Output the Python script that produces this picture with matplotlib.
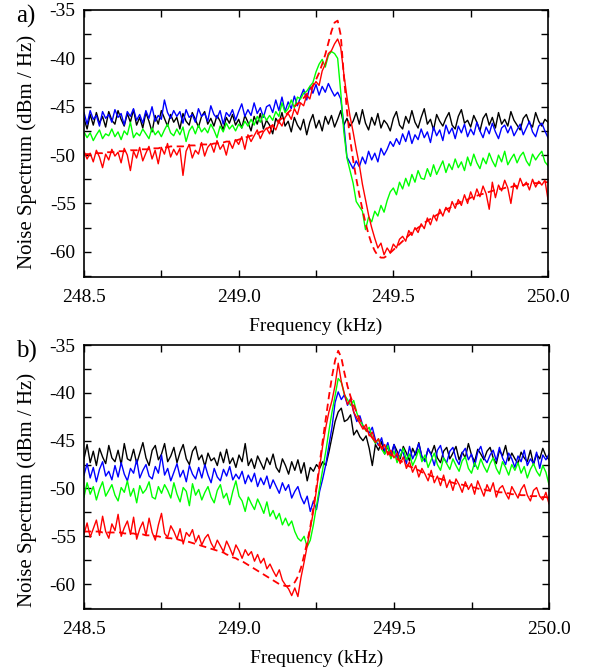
import numpy as np
import matplotlib
matplotlib.use("Agg")
import matplotlib.pyplot as plt
from matplotlib.ticker import MultipleLocator, FormatStrFormatter

# frequency axis, 10 Hz steps
freq = np.linspace(248.5, 250.0, 151)

# ---- panel a) ----
a_black = [
    -46.2, -47.3, -45.8, -46.9, -45.6, -46.7, -46.0, -47.1, -45.5, -46.4,
    -46.8, -45.4, -46.3, -47.0, -45.7, -46.6, -45.3, -46.9, -46.1, -47.2,
    -45.6, -46.5, -47.6, -45.9, -46.8, -45.4, -46.2, -47.0, -45.8, -46.6,
    -46.1, -47.3, -45.7, -46.5, -46.9, -45.6, -46.3, -47.1, -46.0, -45.5,
    -46.8, -46.2, -47.0, -45.9, -46.5, -47.4, -46.1, -46.7, -45.8, -46.9,
    -46.3, -47.2, -45.9, -46.6, -47.5, -46.0, -46.8, -45.7, -47.3, -46.4,
    -46.9, -47.8, -46.2, -46.7, -45.6, -47.0, -46.5, -47.6, -46.1, -46.9,
    -47.4, -46.3, -47.9, -46.6, -45.8, -47.2, -46.4, -47.5, -46.0, -46.8,
    -45.9, -47.1, -46.3, -45.4, -46.9, -46.2, -47.0, -46.5, -45.6, -46.8,
    -45.3, -46.7, -47.4, -46.1, -46.9, -45.7, -47.2, -46.4, -46.8, -47.5,
    -46.2, -45.5, -46.9, -47.3, -46.0, -46.7, -45.4, -46.6, -47.2, -46.1,
    -45.2, -46.8, -46.3, -47.4, -45.8, -46.5, -47.0, -46.2, -45.6, -46.9,
    -47.3, -46.0, -45.3, -46.7, -46.4, -47.1, -45.9, -46.6, -47.5, -46.2,
    -45.7, -46.9, -46.1, -47.2, -45.6, -46.8, -46.3, -47.0, -45.5, -46.4,
    -46.9, -47.4, -46.2, -45.8, -46.7, -47.1, -45.6, -46.5, -47.0, -46.3,
    -46.6]

a_blue = [
    -45.6, -46.8, -45.4, -46.3, -45.9, -47.0, -45.5, -46.2, -45.8, -46.6,
    -45.3, -46.1, -45.7, -46.9, -45.5, -46.0, -45.2, -46.4, -45.8, -46.7,
    -45.4, -46.2, -45.0, -46.5, -45.9, -46.3, -44.3, -45.6, -46.2, -45.4,
    -46.0, -45.5, -46.7, -45.3, -46.1, -45.8, -46.6, -45.2, -46.0, -45.7,
    -46.5, -44.9, -45.8, -46.2, -45.4, -46.8, -45.6, -46.0, -45.3, -46.4,
    -45.5, -44.7, -46.0, -45.3, -45.9, -44.6, -45.7, -45.1, -46.1, -45.0,
    -44.8, -45.6, -44.3, -45.4, -44.0, -45.5, -44.5, -45.2, -43.9, -44.9,
    -44.0, -43.2, -44.3, -42.9, -43.6, -42.7, -43.8, -42.9, -43.5, -42.6,
    -43.3, -43.9, -43.5, -44.2, -46.8, -50.2, -50.8, -51.4, -50.6, -51.2,
    -50.2, -50.9, -49.6, -50.5, -49.8, -50.7, -49.3, -50.0, -49.4, -48.6,
    -49.1, -48.3, -48.9, -47.8, -48.6, -47.5, -48.8, -47.9, -48.4, -47.3,
    -48.2, -47.6, -48.7, -47.1, -48.0, -47.4, -48.5, -46.9, -47.8, -47.2,
    -48.3, -47.0, -47.7, -46.8, -48.1, -47.3, -47.9, -46.6, -47.5, -48.2,
    -47.1, -47.8, -46.7, -47.6, -48.3, -47.2, -46.9, -47.7, -47.0, -48.0,
    -47.4, -46.8, -47.9, -47.2, -46.5, -47.6, -48.1, -47.0, -46.7, -47.5,
    -48.2]

a_green = [
    -47.6, -48.2, -47.7, -48.5, -47.9, -47.4, -48.3, -47.8, -48.0, -47.3,
    -48.1, -47.6, -48.4, -47.5, -47.9, -46.6, -48.2, -47.7, -48.0, -47.3,
    -47.8, -48.3, -47.2, -47.9, -47.5, -48.1, -47.4, -46.8, -47.7, -48.0,
    -47.3, -47.9, -47.1, -48.6, -47.5, -47.0, -47.8, -46.9, -47.6, -47.2,
    -47.7, -46.8, -47.4, -48.2, -47.0, -47.6, -46.7, -47.3, -46.9, -47.5,
    -46.8, -47.2, -46.5, -47.0, -46.3, -46.9, -46.0, -46.6, -45.8, -46.4,
    -45.9, -46.4, -45.5, -46.0, -44.6, -45.6, -45.2, -44.3, -45.1, -44.0,
    -44.2, -43.6, -43.4, -42.9, -42.5, -41.4, -40.6, -40.1, -40.9, -39.7,
    -39.3, -39.5, -40.0, -43.5, -47.6, -50.3, -51.6, -52.9, -54.8, -55.3,
    -55.8, -57.7, -56.4, -56.9, -55.8, -56.3, -55.2, -55.9, -54.7, -53.8,
    -53.4, -54.1, -52.8, -53.5, -52.4, -53.2, -52.0, -52.8, -51.6, -52.4,
    -52.5, -51.4, -52.2, -51.0, -52.0, -51.3, -50.6, -51.8, -50.9, -51.5,
    -50.4, -51.3, -50.7, -51.6, -50.2, -51.1, -49.9, -50.8, -51.4, -50.3,
    -50.9, -49.8, -50.6, -51.2, -50.0, -50.7, -49.6, -51.0, -50.4, -49.9,
    -50.8, -50.1, -49.7, -50.6, -51.1, -49.9, -50.5, -50.0, -49.6, -50.7,
    -51.1]

a_red = [
    -49.6, -50.4, -49.8, -50.7, -49.5, -50.2, -51.3, -49.9, -50.5, -49.4,
    -50.1, -49.7, -50.8, -49.3, -50.0, -51.6, -49.6, -50.3, -49.2, -50.6,
    -49.8, -49.1, -50.4, -49.5, -50.9, -49.2, -49.9, -48.8, -50.2, -49.4,
    -50.0, -49.3, -52.1, -49.6, -48.9, -50.3, -49.5, -49.9, -48.7, -50.1,
    -49.2, -48.8, -49.7, -48.5, -49.4, -48.9, -50.0, -48.6, -49.3, -48.4,
    -48.9, -48.1, -49.4, -47.9, -48.6, -48.0, -47.4, -48.3, -47.6, -47.2,
    -47.8, -46.9, -47.4, -46.5, -47.0, -46.1, -45.7, -46.3, -45.2, -45.8,
    -44.6, -44.9, -43.8, -44.2, -42.9, -42.4, -42.8, -41.3, -40.6, -39.5,
    -39.2, -38.5, -38.0, -38.9, -41.6, -44.0, -46.0, -47.6, -49.4, -51.0,
    -53.0, -54.6, -56.2, -57.5, -58.6, -59.6, -59.1, -60.3, -59.6, -60.1,
    -59.2, -59.6, -58.7, -58.4, -58.9, -57.8, -58.3, -57.5, -58.0, -57.1,
    -57.6, -56.5, -57.2, -56.2, -56.8, -55.6, -56.3, -55.4, -55.9, -54.8,
    -55.5, -54.6, -55.2, -54.1, -55.0, -53.8, -54.6, -53.5, -54.3, -53.2,
    -54.0, -55.6, -52.8, -54.4, -53.1, -53.7, -52.6, -53.4, -55.0, -52.9,
    -53.5, -52.4, -53.2, -52.8, -53.6, -52.5, -53.3, -52.7, -53.1, -52.6,
    -54.6]

a_fit = [
    -49.9, -49.9, -49.9, -49.8, -49.8, -49.8, -49.8, -49.7, -49.7, -49.7,
    -49.7, -49.6, -49.6, -49.6, -49.6, -49.5, -49.5, -49.5, -49.4, -49.4,
    -49.4, -49.4, -49.3, -49.3, -49.3, -49.2, -49.2, -49.2, -49.1, -49.1,
    -49.1, -49.1, -49.1, -49.0, -49.0, -49.0, -49.0, -48.9, -48.9, -48.9,
    -48.9, -48.9, -48.8, -48.8, -48.7, -48.7, -48.6, -48.6, -48.5, -48.5,
    -48.4, -48.3, -48.2, -48.1, -48.0, -47.9, -47.8, -47.6, -47.5, -47.3,
    -47.1, -46.9, -46.7, -46.4, -46.2, -45.9, -45.6, -45.3, -45.0, -44.7,
    -44.5, -44.1, -43.7, -43.3, -42.8, -42.2, -41.5, -40.6, -39.6, -38.4,
    -37.2, -36.3, -36.1, -37.6, -41.8, -45.4, -48.3, -50.5, -52.4, -54.1,
    -55.6, -57.0, -58.2, -59.2, -59.9, -60.4, -60.6, -60.6, -60.4, -60.1,
    -59.8, -59.5, -59.2, -58.9, -58.6, -58.3, -58.0, -57.8, -57.5, -57.3,
    -57.0, -56.8, -56.6, -56.4, -56.2, -56.0, -55.8, -55.6, -55.5, -55.3,
    -55.1, -55.0, -54.8, -54.7, -54.6, -54.4, -54.3, -54.2, -54.1, -54.0,
    -53.9, -53.8, -53.7, -53.6, -53.5, -53.5, -53.4, -53.3, -53.3, -53.2,
    -53.2, -53.1, -53.1, -53.0, -53.0, -52.9, -52.9, -52.9, -52.8, -52.8,
    -52.8]

# ---- panel b) ----
b_black = [
    -46.9, -45.4, -47.3, -46.1, -47.6, -45.8, -46.7, -47.4, -45.5, -46.8,
    -47.2, -46.0, -47.5, -45.3, -46.9, -47.1, -45.9, -47.4, -46.3, -45.2,
    -46.8, -47.6, -46.0, -45.5, -47.0, -46.4, -45.3, -47.2, -46.6, -45.7,
    -47.3, -46.2, -45.4, -46.9, -47.5, -46.1, -45.6, -47.0, -46.5, -47.7,
    -46.3, -47.1, -46.8, -47.6, -46.2, -47.3, -45.9, -47.4, -46.8, -47.8,
    -46.5, -47.2, -45.3, -47.6, -46.9, -47.9, -46.6, -47.3, -48.0, -46.8,
    -47.5, -46.4, -47.8, -48.3, -46.9, -47.6, -48.5, -47.2, -48.1, -47.0,
    -48.4, -47.3, -49.2, -47.8, -48.2, -47.5, -47.9, -47.2, -47.6, -46.2,
    -44.6, -43.0, -42.0, -41.6, -43.0, -42.8, -42.3, -44.4, -43.9, -44.6,
    -45.0, -44.5, -45.8, -47.6, -45.4, -46.0, -45.1, -46.4, -45.6, -46.8,
    -45.4, -46.1, -46.9, -45.6, -46.3, -47.1, -45.8, -46.5, -45.2, -46.7,
    -47.0, -45.9, -46.4, -45.5, -46.8, -47.3, -46.1, -45.7, -46.9, -46.3,
    -45.6, -47.0, -46.2, -46.8, -45.3, -46.5, -47.2, -45.9, -46.4, -47.0,
    -46.1, -45.7, -46.8, -47.4, -46.0, -46.6, -45.5, -47.1, -46.3, -46.9,
    -47.4, -46.2, -46.8, -47.2, -46.0, -47.5, -46.4, -46.9, -45.8, -46.6,
    -47.0]

b_blue = [
    -48.6, -47.4, -48.9, -47.8, -49.3, -48.0, -47.2, -48.7, -48.2, -49.1,
    -47.6, -48.8, -47.3, -48.5, -49.2, -47.9, -48.4, -47.0, -48.9, -48.1,
    -47.5, -48.7, -49.0, -47.7, -48.4, -46.5, -48.6, -47.9, -49.2, -48.3,
    -47.4, -48.8, -48.1, -49.3, -47.6, -48.5, -49.0, -47.8, -48.9, -47.5,
    -48.6, -49.4, -47.9, -48.8, -49.2, -48.0, -48.7, -47.7, -49.1, -48.5,
    -49.0, -48.2, -49.5, -48.6, -49.3, -48.4, -49.8, -48.9, -49.6, -48.7,
    -50.0, -49.1, -49.8, -50.5, -49.4, -50.2, -49.6, -51.0, -50.3, -49.8,
    -50.9, -51.6, -50.8, -52.4, -51.3, -52.2, -50.3, -49.0, -47.5, -45.5,
    -43.6, -41.0, -39.9, -40.7, -40.2, -41.3, -40.6, -42.0, -43.0, -42.4,
    -43.5, -43.8, -44.2, -43.6, -44.9, -45.5, -44.7, -46.1, -45.2, -46.5,
    -45.4, -46.8, -45.9, -46.3, -47.4, -45.6, -46.9, -46.2, -45.3, -46.7,
    -47.2, -45.8, -46.5, -47.6, -46.0, -45.5, -46.8, -47.3, -46.1, -45.7,
    -46.9, -47.5, -46.3, -45.8, -47.0, -46.4, -47.7, -46.2, -45.6, -46.8,
    -47.3, -46.5, -46.0, -47.1, -45.7, -46.8, -47.5, -46.3, -46.9, -47.8,
    -46.6, -47.2, -46.0, -47.6, -46.9, -47.4, -46.2, -47.9, -46.5, -47.0,
    -46.4]

b_green = [
    -50.9, -49.4, -50.6, -49.8, -51.2, -50.1, -49.3, -50.8, -50.2, -49.6,
    -50.7, -51.3, -49.9, -50.4, -49.2, -50.8, -50.0, -51.5, -49.7, -50.5,
    -50.1, -49.3, -50.9, -51.1, -49.8, -50.5, -49.6, -50.2, -51.0, -49.4,
    -50.6, -51.4, -49.9, -50.3, -51.8, -49.5, -50.7, -50.1, -51.2, -50.4,
    -49.8, -50.9, -51.5, -50.2, -49.6, -51.0, -50.5, -51.7, -50.3, -49.2,
    -50.8, -51.3, -52.4, -50.9, -51.6, -52.2, -51.1, -51.8, -52.6, -51.4,
    -52.9, -52.3, -53.2, -52.6, -53.8, -53.1, -53.9, -53.4, -54.5, -55.2,
    -55.5, -55.0, -56.1, -55.4, -53.8, -51.8, -49.9, -48.0, -46.1, -44.0,
    -42.0, -40.3, -38.5, -38.9, -40.2, -40.7, -41.3, -40.8, -42.1, -42.9,
    -43.4, -44.0, -43.6, -44.7, -45.3, -44.8, -45.9, -46.4, -45.5, -46.9,
    -46.1, -47.3, -46.6, -45.8, -47.0, -46.4, -47.6, -46.9, -45.9, -47.2,
    -46.5, -47.8, -47.0, -46.3, -47.5, -48.1, -46.8, -47.4, -48.0, -46.9,
    -47.6, -48.2, -47.1, -46.7, -47.9, -48.4, -47.3, -48.0, -46.9, -47.7,
    -48.3, -47.4, -46.8, -47.9, -48.5, -47.2, -47.8, -48.6, -47.5, -48.1,
    -47.3, -48.4, -47.7, -48.9, -48.0, -47.4, -48.2, -48.7, -47.6, -48.3,
    -49.6]

b_red = [
    -54.8, -53.6, -55.1, -54.2, -53.3, -54.9, -52.9, -54.5, -55.2, -53.7,
    -54.4, -52.7, -55.0, -54.1, -53.4, -54.8, -53.0, -55.3, -54.2, -53.5,
    -54.9, -53.1, -54.6, -55.4, -53.8, -52.6, -54.7, -55.1, -53.9, -54.5,
    -55.3, -54.2, -55.8, -54.6, -55.0, -54.3, -55.6, -54.9, -55.9, -55.2,
    -54.8, -55.7, -56.3, -55.4, -56.0, -56.6, -55.5, -56.2, -57.0, -55.9,
    -56.5, -57.3, -56.4, -57.0, -56.6, -57.6, -56.9, -57.8, -57.3, -58.4,
    -57.9, -58.6, -59.2, -58.5, -59.6, -60.1, -60.5, -61.2, -60.4, -61.3,
    -59.3, -57.7, -56.0, -54.2, -52.4, -50.1, -47.8, -45.5, -43.6, -42.0,
    -40.8, -39.2, -36.9, -38.8, -40.1, -41.2, -40.7, -42.0, -42.6, -43.2,
    -43.8, -43.3, -44.5, -44.1, -45.2, -44.8, -45.9, -45.4, -46.5, -46.0,
    -46.8, -46.3, -47.4, -46.7, -47.9, -47.2, -48.3, -47.6, -48.8, -47.9,
    -48.5, -49.2, -48.1, -49.4, -48.7, -49.7, -48.6, -49.9, -49.1, -50.2,
    -49.0, -49.6, -50.4, -49.3, -50.1, -49.5, -50.6, -49.2, -50.0, -50.8,
    -49.6, -50.3, -49.4, -50.9, -50.0, -49.7, -50.5, -51.1, -49.8, -50.4,
    -51.0, -50.1, -49.6, -50.7, -51.3, -50.2, -49.9, -50.8, -51.2, -50.4,
    -51.6]

b_fit = [
    -54.5, -54.5, -54.5, -54.5, -54.5, -54.5, -54.6, -54.6, -54.6, -54.6,
    -54.6, -54.6, -54.6, -54.7, -54.7, -54.7, -54.7, -54.8, -54.8, -54.8,
    -54.9, -54.9, -54.9, -55.0, -55.0, -55.1, -55.1, -55.2, -55.2, -55.3,
    -55.3, -55.4, -55.5, -55.5, -55.6, -55.7, -55.8, -55.9, -56.0, -56.1,
    -56.2, -56.3, -56.4, -56.5, -56.6, -56.7, -56.9, -57.0, -57.2, -57.3,
    -57.5, -57.6, -57.8, -58.0, -58.2, -58.4, -58.6, -58.8, -59.0, -59.2,
    -59.4, -59.6, -59.8, -60.0, -60.1, -60.2, -60.2, -60.1, -59.8, -59.2,
    -58.3, -57.0, -55.6, -54.0, -52.0, -49.8, -47.4, -45.0, -42.7, -40.4,
    -38.3, -36.6, -35.6, -36.3, -37.9, -39.3, -40.4, -41.3, -42.1, -42.8,
    -43.4, -43.9, -44.3, -44.7, -45.1, -45.4, -45.7, -46.0, -46.2, -46.5,
    -46.7, -46.9, -47.1, -47.3, -47.5, -47.7, -47.8, -48.0, -48.1, -48.3,
    -48.4, -48.5, -48.7, -48.8, -48.9, -49.0, -49.1, -49.2, -49.3, -49.4,
    -49.5, -49.6, -49.6, -49.7, -49.8, -49.9, -49.9, -50.0, -50.1, -50.1,
    -50.2, -50.2, -50.3, -50.3, -50.4, -50.4, -50.5, -50.5, -50.6, -50.6,
    -50.6, -50.7, -50.7, -50.7, -50.8, -50.8, -50.8, -50.9, -50.9, -50.9,
    -51.0]

plt.rcParams['font.family'] = ['Liberation Serif', 'DejaVu Serif']
plt.rcParams['axes.unicode_minus'] = False

fig = plt.figure(figsize=(5.89, 6.71), dpi=100)
ax_a = fig.add_axes([0.1426, 0.5872, 0.7878, 0.3979])
ax_b = fig.add_axes([0.1426, 0.0924, 0.7895, 0.3934])

panels = [
    (ax_a, a_black, a_blue, a_green, a_red, a_fit, 'a)', 0.468),
    (ax_b, b_black, b_blue, b_green, b_red, b_fit, 'b)', 0.450),
]

for ax, blk, blu, grn, red, fit, tag, ylab_y in panels:
    ax.plot(freq, blk, color='black', lw=1.0)
    ax.plot(freq, blu, color='#0000ff', lw=1.0)
    ax.plot(freq, grn, color='#00ff00', lw=1.0)
    ax.plot(freq, red, color='#ff0000', lw=1.0)
    ax.plot(freq, fit, color='#ff0000', lw=1.3, ls=(0, (4, 2.5)))

    ax.set_xlim(248.5, 250.0)
    ax.set_ylim(-62.6, -35)
    ax.xaxis.set_major_locator(MultipleLocator(0.5))
    ax.xaxis.set_minor_locator(MultipleLocator(0.25))
    ax.xaxis.set_major_formatter(FormatStrFormatter('%.1f'))
    ax.yaxis.set_major_locator(MultipleLocator(5))
    ax.yaxis.set_minor_locator(MultipleLocator(2.5))
    ax.tick_params(which='both', direction='in', top=True, right=True,
                   length=5, width=1.0)
    ax.tick_params(axis='x', which='major', labelsize=14, pad=9)
    ax.tick_params(axis='y', which='major', labelsize=14, pad=6)
    for s in ax.spines.values():
        s.set_linewidth(1.2)

    ax.set_xlabel('Frequency (kHz)', fontsize=14, labelpad=8)
    ax.set_ylabel('Noise Spectrum (dBm / Hz)', fontsize=15)
    ax.yaxis.set_label_coords(-0.101, ylab_y)
    ax.text(-0.147, 0.975, tag, transform=ax.transAxes, fontsize=18,
            ha='left', va='center')

fig.savefig('out.png', dpi=100)
